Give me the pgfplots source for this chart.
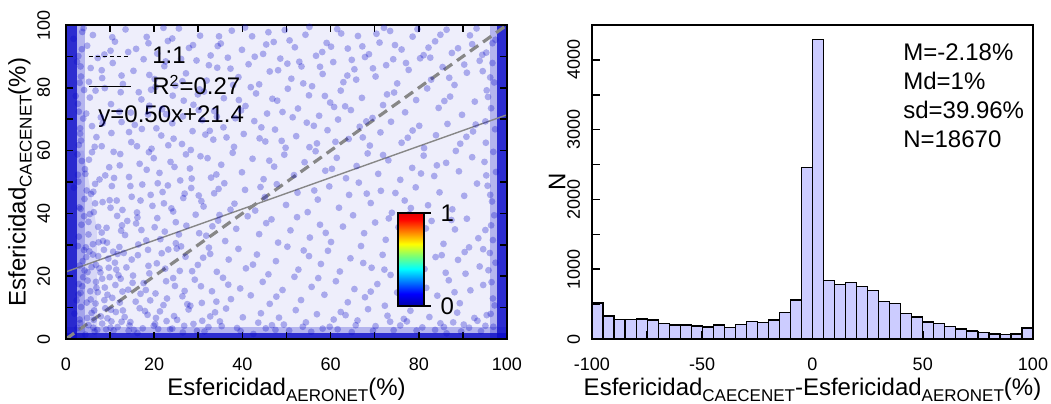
\documentclass[border=0pt]{standalone}
\usepackage{pgfplots}
\pgfplotsset{compat=1.18}
\usepackage{fontspec}
\setmainfont{Liberation Sans}
\usetikzlibrary{calc}
\definecolor{ptblue}{RGB}{10,10,200}
\definecolor{histfill}{RGB}{204,204,255}
\definecolor{lgray}{RGB}{135,135,135}
\pgfplotsset{
  every axis/.append style={
    /pgf/number format/assume math mode=true,
    /pgf/number format/1000 sep={},
    tick label style={font=\fontsize{9}{10.8}\selectfont},
    label style={font=\fontsize{12}{14.4}\selectfont},
  }
}
\newcommand{\sub}[1]{\raisebox{-0.25em}{\fontsize{8.5}{10}\selectfont #1}}
\begin{document}
\begin{tikzpicture}
\useasboundingbox (-33pt,-32pt) rectangle (492.5pt,169.5pt);
% ---------------- left: scatter
\begin{axis}[
  at={(0pt,0pt)}, anchor=south west,
  scale only axis, width=220.5pt, height=157pt,
  xmin=0, xmax=100, ymin=0, ymax=100,
  xtick={0,20,...,100}, minor xtick={10,30,...,90},
  ytick={0,20,...,100}, minor ytick={10,30,...,90},
  tick pos=both, tick align=inside,
  major tick length=3.5pt, minor tick length=3.5pt,
  every tick/.style={black, line width=0.8pt},
  axis line style={line width=1pt},
  axis on top,
  xticklabel shift=6pt, yticklabel shift=4.5pt,
  yticklabel style={rotate=90, anchor=south},
  xlabel={Esfericidad\sub{AERONET}(\%)},
  ylabel={Esfericidad\sub{CAECENET}(\%)},
  xlabel style={at={(axis description cs:0.5,-0.162)}, anchor=center},
  ylabel style={at={(axis description cs:-0.104,0.5)}, anchor=center, rotate=0},
  legend style={at={(0.036,0.962)}, anchor=north west, draw=none, fill=none,
    font=\fontsize{12}{14.4}\selectfont, row sep=0pt, column sep=10.5pt,
    nodes={inner ysep=0pt, inner xsep=0pt, minimum height=15pt}},
  legend cell align=left,
  legend image code/.code={\draw[#1] (0pt,0pt) -- (21pt,0pt);},
  colormap={cbmap}{rgb255(0cm)=(0,0,170); rgb255(1cm)=(0,0,255); rgb255(3cm)=(0,255,255); rgb255(4cm)=(120,255,120); rgb255(5cm)=(255,255,0); rgb255(7cm)=(255,0,0); rgb255(7.5cm)=(225,0,0)},
  colorbar, point meta min=0, point meta max=1,
  colorbar style={
    at={($(parent axis.south west)+(157.5pt,16.5pt)$)}, anchor=south west,
    scale only axis, width=13pt, height=46.5pt,
    ytick={0,1}, xtick=\empty, ytick pos=right, yticklabel pos=right,
    tick align=outside, major tick length=3.3pt,
    every tick/.style={black, line width=0.6pt},
    axis line style={line width=0.6pt},
    yticklabel style={font=\fontsize{12}{14.4}\selectfont, xshift=1.5pt},
  },
]
% haze and dense edge bands
\addplot[fill=ptblue, fill opacity=0.07, draw=none, forget plot] coordinates {(0,0) (100,0) (100,100) (0,100)} -- cycle;
\addplot[fill=ptblue, fill opacity=0.10, draw=none, forget plot] coordinates {(0,0) (7,0) (7,35) (4,60) (0,60)} -- cycle;
\addplot[fill=ptblue, fill opacity=0.25, draw=none, forget plot] coordinates {(0,0) (4.2,0) (4.2,100) (0,100)} -- cycle;
\addplot[fill=ptblue, fill opacity=0.8, draw=none, forget plot] coordinates {(0,0) (2.4,0) (2.4,100) (0,100)} -- cycle;
\addplot[fill=ptblue, fill opacity=0.25, draw=none, forget plot] coordinates {(96.2,0) (100,0) (100,100) (96.2,100)} -- cycle;
\addplot[fill=ptblue, fill opacity=0.8, draw=none, forget plot] coordinates {(97.8,0) (100,0) (100,100) (97.8,100)} -- cycle;
\addplot[fill=ptblue, fill opacity=0.25, draw=none, forget plot] coordinates {(0,0) (100,0) (100,3.8) (0,3.8)} -- cycle;
\addplot[fill=ptblue, fill opacity=0.8, draw=none, forget plot] coordinates {(0,0) (100,0) (100,2.0) (0,2.0)} -- cycle;
% scattered points
\addplot[only marks, mark=*, mark size=1.7pt, color=ptblue, mark options={fill=ptblue, fill opacity=0.3, draw opacity=0}, forget plot] coordinates {
(3.2,5.1)(5.8,8.3)(7.1,2.9)(9.4,6.6)(11.7,3.8)(12.9,9.1)(14.6,5.4)(16.2,1.9)(18.5,7.7)(19.9,4.2)(21.3,8.8)(23.6,3.1)(25.2,6.1)(27.8,9.4)(28.9,4.8)(31.4,2.4)(32.7,7.2)(34.9,5.6)(36.3,9.7)(38.8,3.5)(40.1,6.9)(42.5,1.6)(44.2,8.2)(46.7,4.4)(48.3,6.8)(50.6,2.7)(52.1,9.2)(54.4,5.3)(56.9,7.9)(58.2,3.3)(60.7,6.2)(62.3,8.6)(64.8,2.2)(66.1,5.9)(68.5,9.5)(70.2,4.1)(72.9,7.4)(74.3,2.8)(76.6,6.4)(78.1,9.0)(80.8,3.7)(82.4,7.0)(84.9,5.0)(86.3,1.8)(88.7,8.4)(90.2,4.6)(92.6,6.7)(94.1,2.5)(96.3,8.0)(4.4,1.4)(8.2,4.9)(13.3,7.0)(17.4,3.4)(22.8,5.7)(26.5,2.1)(33.8,8.5)(43.6,5.2)(53.7,3.9)(63.4,7.6)(73.5,5.5)(83.7,2.9)(93.3,5.8)
(2.8,14.2)(4.9,18.6)(6.7,11.3)(8.8,16.4)(10.5,13.1)(12.4,19.2)(14.1,15.7)(15.8,11.9)(17.6,17.8)(20.3,14.5)(22.1,10.8)(24.7,16.9)(26.4,13.6)(29.2,18.9)(30.8,11.5)(33.1,15.2)(35.6,19.5)(37.4,12.7)(39.5,16.1)(41.9,13.9)(44.6,18.2)(46.2,11.2)(49.1,15.6)(51.8,19.8)(53.3,12.4)(55.7,16.6)(58.6,14.1)(61.2,18.4)(63.9,11.7)(65.4,15.9)(67.8,13.3)(70.6,17.5)(72.3,10.6)(75.1,14.8)(77.5,19.1)(79.2,12.2)(81.7,16.3)(84.2,13.8)(86.8,18.7)(89.3,11.4)(91.7,15.5)(94.6,17.2)(96.8,12.9)(5.6,12.6)(9.9,19.7)(16.9,14.4)(27.5,11.1)(36.8,17.3)(47.7,13.5)(57.2,19.4)(69.1,15.1)(78.4,16.8)(88.1,14.9)(3.7,16.8)(11.2,17.2)(19.1,12.3)
(3.1,23.4)(5.3,27.9)(7.8,21.2)(9.6,25.6)(12.1,29.3)(13.7,22.8)(16.3,26.7)(18.9,20.9)(20.6,24.1)(23.2,28.5)(25.8,21.7)(27.1,26.2)(29.9,23.6)(32.4,29.1)(34.2,21.4)(36.9,25.3)(39.1,28.7)(40.8,22.5)(43.3,26.9)(45.9,20.6)(47.6,24.8)(50.2,29.4)(52.7,22.1)(55.1,26.4)(57.8,23.9)(59.4,28.1)(62.1,21.5)(64.5,25.7)(66.9,29.6)(69.3,22.7)(71.8,26.8)(73.6,20.4)(76.2,24.6)(78.9,28.9)(81.3,22.3)(83.8,26.1)(86.1,21.1)(88.9,25.2)(91.4,29.2)(93.8,23.1)(96.1,27.4)(4.2,21.8)(8.6,28.4)(11.1,24.3)(15.2,20.2)(21.7,27.3)(31.1,25.9)(42.4,23.7)(53.9,28.2)(67.4,24.2)(79.7,21.9)(90.4,27.7)
(2.9,32.6)(5.1,37.3)(7.4,30.8)(9.2,35.4)(11.6,39.2)(13.4,33.1)(15.9,36.8)(18.2,31.4)(20.7,38.5)(22.4,34.2)(24.9,30.5)(27.3,36.1)(29.4,39.6)(31.8,32.9)(34.5,37.7)(36.1,31.2)(38.6,35.1)(41.2,39.1)(43.8,33.4)(45.4,36.9)(48.1,30.7)(50.9,34.6)(52.4,38.8)(55.3,32.3)(57.6,36.4)(60.1,30.9)(62.8,35.8)(65.1,39.4)(67.6,33.7)(70.1,37.1)(72.5,31.6)(75.4,35.6)(77.9,39.8)(80.4,32.7)(82.9,37.6)(85.6,30.3)(88.2,34.9)(90.9,38.3)(93.5,32.1)(96.4,36.2)(4.1,39.1)(8.1,33.9)(12.7,36.2)(17.1,34.7)(25.6,33.3)(33.2,35.9)(46.6,38.1)(58.9,33.8)(73.2,38.4)(87.4,37.9)
(3.3,41.5)(5.7,46.2)(8.3,43.6)(10.4,48.7)(12.8,41.1)(14.9,45.3)(17.3,49.2)(19.6,42.4)(21.9,46.8)(24.3,40.6)(26.6,44.9)(28.4,48.1)(31.2,42.2)(33.6,46.4)(35.9,49.6)(38.2,43.1)(40.6,47.5)(42.9,40.9)(45.1,45.2)(47.8,49.3)(49.9,42.7)(52.5,46.6)(54.8,40.4)(57.1,44.4)(59.7,48.6)(61.9,41.8)(64.2,45.9)(66.4,49.8)(69.1,43.3)(71.4,47.2)(73.9,40.2)(76.8,44.1)(79.3,48.3)(82.1,42.6)(84.7,46.7)(87.6,41.3)(90.3,45.6)(93.2,49.5)(96.6,43.8)(6.6,49.4)(11.5,44.1)(16.1,40.3)(23.1,48.9)(30.1,45.7)(37.3,41.2)(44.1,48.4)(56.3,47.3)(68.2,46.3)(78.2,41.7)
(2.7,52.3)(5.2,57.1)(7.6,50.8)(9.8,54.7)(12.3,58.9)(14.3,51.6)(16.7,55.8)(18.8,59.5)(21.2,52.9)(23.7,56.4)(25.9,50.5)(28.1,54.3)(30.5,58.2)(32.9,51.4)(35.2,55.5)(37.8,59.3)(39.9,53.1)(42.3,57.4)(44.8,50.9)(47.2,54.9)(49.5,58.7)(51.7,52.2)(54.1,56.3)(56.6,59.8)(58.8,53.6)(61.4,57.7)(63.5,51.2)(65.9,55.1)(68.4,59.1)(70.8,52.6)(73.1,56.9)(75.8,50.7)(78.5,54.5)(81.1,58.4)(83.5,51.9)(86.2,56.1)(89.1,53.4)(92.1,57.9)(95.3,52.1)(4.3,54.1)(10.9,51.3)(19.9,57.6)(27.2,58.8)(34.1,52.4)(46.1,56.8)(60.3,54.2)(71.9,58.6)(84.1,55.3)
(3.4,63.2)(5.9,67.8)(8.1,61.4)(10.3,65.6)(12.6,69.1)(14.8,62.7)(17.2,66.9)(19.4,60.6)(21.6,64.8)(24.1,68.7)(26.3,62.1)(28.7,66.2)(30.9,69.7)(33.4,63.5)(35.7,67.4)(38.1,61.2)(40.3,65.3)(42.7,69.4)(45.2,62.9)(47.4,66.7)(49.8,60.9)(52.2,64.6)(54.6,68.9)(56.9,62.3)(59.3,66.5)(61.7,69.9)(64.1,63.7)(66.6,67.6)(68.9,61.6)(71.3,65.8)(73.7,69.2)(76.1,62.5)(78.6,66.4)(81.2,60.8)(83.9,64.9)(86.5,68.5)(89.4,62.2)(92.3,66.1)(95.1,69.3)(6.9,64.3)(15.6,68.2)(23.2,61.7)(31.6,65.1)(43.9,63.9)(55.2,61.1)(67.3,64.2)(80.1,67.9)(90.8,64.4)
(2.9,72.4)(5.4,76.9)(7.9,70.6)(10.2,74.8)(12.4,78.6)(14.7,72.1)(17.1,76.3)(19.3,79.4)(21.8,73.2)(24.2,77.5)(26.5,70.9)(28.9,74.6)(31.3,78.8)(33.6,72.6)(35.8,76.7)(38.4,70.3)(40.7,74.2)(43.1,78.2)(45.6,71.8)(47.9,75.9)(50.3,79.7)(52.6,73.4)(55.1,77.6)(57.4,71.1)(59.9,75.3)(62.3,79.1)(64.6,72.9)(67.1,76.8)(69.5,70.4)(71.9,74.5)(74.4,78.5)(76.9,72.2)(79.4,76.1)(81.9,79.8)(84.5,73.6)(87.1,77.2)(89.8,71.4)(92.7,75.6)(95.4,79.2)(8.8,79.9)(18.6,71.5)(29.9,77.9)(39.2,76.1)(49.1,72.3)(60.8,73.9)(72.8,77.9)(85.8,75.8)
(3.1,81.6)(5.6,86.3)(8.2,83.1)(10.6,87.9)(12.9,81.2)(15.3,85.4)(17.6,89.1)(20.1,82.8)(22.3,86.9)(24.8,80.7)(27.2,84.6)(29.6,88.7)(31.9,82.3)(34.3,86.4)(36.7,89.6)(39.1,83.4)(41.4,87.5)(43.8,81.1)(46.2,85.2)(48.6,89.3)(51.1,82.9)(53.4,86.8)(55.8,80.5)(58.2,84.4)(60.6,88.2)(62.9,81.8)(65.4,85.9)(67.8,89.8)(70.2,83.6)(72.6,87.2)(75.1,81.4)(77.7,85.7)(80.3,89.4)(82.8,82.6)(85.4,86.6)(88.1,80.9)(90.9,84.8)(93.8,88.6)(96.2,83.3)(7.2,89.5)(18.9,84.1)(26.1,89.2)(37.9,80.9)(50.2,87.7)(63.8,83.9)(74.2,89.1)(86.9,83.2)
(3.6,92.3)(6.1,96.8)(8.7,90.6)(11.1,94.7)(13.5,98.6)(15.9,92.4)(18.3,96.2)(20.7,90.9)(23.1,94.9)(25.6,98.9)(27.9,92.7)(30.4,96.6)(32.8,90.3)(35.1,94.1)(37.6,98.2)(39.9,92.1)(42.2,96.4)(44.7,90.8)(47.1,94.6)(49.6,98.4)(51.9,92.9)(54.3,96.9)(56.7,90.2)(59.1,94.3)(61.5,98.7)(63.9,92.5)(66.2,96.5)(68.7,90.7)(71.1,94.4)(73.5,98.1)(76.1,92.2)(78.6,96.3)(81.1,90.4)(83.7,94.8)(86.3,98.5)(88.9,92.6)(91.6,96.7)(94.4,90.5)(96.7,94.2)(10.1,91.8)(22.1,99.1)(34.4,93.3)(45.9,97.7)(58.1,91.4)(70.4,97.2)(82.2,92.8)(93.1,98.9)
(1.9,8.1)(2.4,12.3)(3.9,19.7)(4.6,26.1)(5.1,33.3)(6.2,3.6)(6.3,40.4)(7.2,14.9)(7.6,22.5)(8.9,9.8)(9.3,30.7)(9.9,44.2)(10.8,2.7)(11.4,22.1)(12.2,11.6)(13.1,27.4)(13.9,37.6)(14.4,4.3)(15.1,17.9)(16.4,30.1)(17.9,8.9)(18.7,23.3)(19.2,45.9)(20.9,3.2)(21.4,31.8)(22.7,18.4)(23.9,41.6)(24.5,7.3)(25.1,28.8)(26.9,15.3)(1.8,48.2)(2.6,58.8)(3.2,67.1)(2.2,77.4)(2.5,88.3)(1.7,95.6)
(2.6,3.5)(3.4,10.2)(2.9,17.5)(3.8,24.8)(2.7,29.6)(3.5,36.4)(4.2,44.6)(2.8,50.1)(3.6,56.7)(2.9,61.8)(3.9,70.2)(2.7,74.9)(3.4,83.6)(2.8,90.1)(3.7,97.8)(4.8,6.7)(5.5,15.2)(4.9,21.3)(6.1,30.2)(5.4,39.8)(4.7,47.3)(5.9,59.5)(4.6,71.8)(5.2,81.9)(4.8,93.4)(6.4,9.1)(6.8,18.2)(6.1,26.9)(7.3,35.7)(6.6,43.2)(3.1,6.2)(3.3,14.7)(4.1,28.3)(3.0,41.9)(4.4,52.6)(3.2,65.4)(4.1,79.3)(3.3,86.8)(4.0,99.0)
(96.9,3.9)(97.2,10.7)(96.5,18.1)(97.4,24.3)(96.8,31.5)(97.1,39.4)(96.2,45.9)(97.5,53.2)(96.9,59.6)(97.3,66.8)(96.4,73.5)(97.1,81.7)(96.7,87.9)(97.4,95.3)(95.4,7.6)(95.8,21.9)(95.1,34.7)(95.6,48.8)(95.2,62.5)(95.7,77.1)(95.3,91.2)(94.6,28.6)(94.9,56.4)(94.5,85.3)
(6.5,2.4)(10.1,3.6)(15.4,2.9)(20.2,4.8)(24.1,3.3)(29.7,2.6)(35.3,4.1)(39.6,2.5)(45.3,3.4)(49.4,4.6)(55.6,2.3)(59.8,3.9)(65.7,4.4)(69.6,2.6)(75.8,4.3)(79.5,2.7)(85.7,3.8)(89.6,2.4)(91.4,3.6)(95.1,4.2)(12.6,5.5)(30.9,5.8)(47.5,2.9)(61.6,3.1)(77.3,5.6)(87.8,5.3)
(6.3,6.1)(8.7,12.4)(10.2,9.3)(12.8,15.1)(14.2,2.6)(16.7,9.8)(18.1,15.6)(20.4,6.7)(22.9,12.9)(24.3,19.4)(26.8,4.2)(28.2,10.6)(30.6,16.8)(32.3,3.8)(34.1,11.9)
(6.8,23.6)(8.4,31.2)(10.7,27.8)(12.5,34.5)(14.9,25.3)(16.2,38.7)(18.6,28.4)(20.1,35.6)(22.5,22.4)(24.9,37.2)(26.1,29.5)(28.6,21.6)(30.2,33.7)(32.7,27.1)(34.8,39.5)
(6.2,46.9)(8.9,52.1)(10.1,41.8)(12.2,55.3)(14.6,48.7)(16.9,44.1)(18.3,53.9)(20.8,49.6)(22.2,43.2)(24.6,54.8)(26.9,46.3)(28.5,51.1)(30.7,43.9)(32.1,57.6)(34.6,47.8)
(6.5,61.2)(8.3,68.7)(10.8,59.6)(12.1,72.4)(14.3,65.9)(16.1,61.4)(18.9,74.3)(20.5,67.1)(22.7,71.6)(24.4,63.8)(26.7,75.9)(28.3,60.2)(30.1,72.9)(32.6,66.3)(34.2,70.8)
(6.7,79.1)(8.1,85.6)(10.5,96.1)(12.6,83.9)(14.1,91.4)(16.5,78.6)(18.7,94.2)(20.3,80.3)(22.6,88.4)(24.1,95.7)(26.4,82.1)(28.8,93.6)(30.3,79.5)(32.4,87.2)(34.7,96.4)
(37.3,86.1)(40.6,99.2)(42.8,89.9)(45.4,93.8)(48.1,85.6)(50.7,95.1)(52.9,88.3)(55.2,99.4)(57.6,86.7)(60.1,93.1)(62.4,97.3)(64.8,88.9)(67.2,93.2)(69.6,86.2)(72.1,99.1)(74.6,93.6)(77.1,87.9)(79.7,98.7)(82.6,89.6)(84.9,96.9)(87.5,91.1)(90.3,87.4)(92.1,93.9)
(36.4,64.2)(39.7,72.8)(41.9,80.2)(44.3,67.4)(46.8,76.5)(48.9,63.1)(51.4,70.6)(53.8,81.4)(56.2,67.9)(58.7,77.4)(61.1,62.8)(63.3,74.1)(65.8,82.6)(68.1,69.3)
(5.1,4.4)(7.9,7.2)(9.1,3.1)(11.3,8.6)(4.7,11.6)(6.9,16.3)(9.4,14.1)(11.9,20.3)(5.8,22.9)(7.3,26.4)(9.7,22.7)(11.7,27.1)(4.5,29.2)(8.2,19.2)(10.3,5.6)
(72.2,22.1)(76.4,29.7)(81.6,35.2)(85.2,26.7)(90.6,20.8)(74.7,46.5)(80.5,52.7)(88.4,59.9)(92.9,68.3)(77.5,64.1)
};
% lines
\addplot[lgray, line width=1.6pt, dash pattern=on 5pt off 3pt, forget plot] coordinates {(0,0) (100,100)};
\addplot[lgray, line width=0.7pt, forget plot] coordinates {(0,21.4) (100,71.4)};
\addlegendimage{black, line width=0.5pt, dash pattern=on 2pt off 1.5pt}
\addlegendentry{1:1}
\addlegendimage{black, line width=0.5pt}
\addlegendentry{R\textsuperscript{2}=0.27}
\node[anchor=west, inner sep=0pt, font=\fontsize{12}{14.4}\selectfont] at (rel axis cs:0.0726,0.707) {y=0.50x+21.4};
\end{axis}
% ---------------- right: histogram
\begin{axis}[
  at={(263pt,0pt)}, anchor=south west,
  scale only axis, width=220.5pt, height=157pt,
  xmin=-100, xmax=100, ymin=0, ymax=4500,
  xtick={-100,-50,0,50,100}, minor xtick={-75,-25,25,75},
  ytick={0,1000,2000,3000,4000}, minor ytick={500,1500,2500,3500},
  xtick pos=bottom, ytick pos=left, tick align=inside,
  major tick length=4pt, minor tick length=4pt,
  every tick/.style={black, line width=0.8pt},
  axis line style={line width=1pt},
  axis on top,
  scaled y ticks=false,
  xticklabel shift=6pt, yticklabel shift=2.5pt,
  yticklabel style={rotate=90, anchor=south},
  xlabel={Esfericidad\sub{CAECENET}-Esfericidad\sub{AERONET}(\%)},
  ylabel={N},
  xlabel style={at={(axis description cs:0.5,-0.162)}, anchor=center},
  ylabel style={at={(axis description cs:-0.079,0.5)}, anchor=center},
]
\addplot[ybar interval, fill=histfill, draw=black, line width=0.6pt] coordinates {
(-100,517) (-95,330) (-90,278) (-85,278) (-80,287) (-75,273) (-70,220) (-65,201) (-60,201) (-55,187)
(-50,172) (-45,201) (-40,163) (-35,206) (-30,254) (-25,240) (-20,273) (-15,378) (-10,560) (-5,2457)
(0,4292) (5,834) (10,786) (15,805) (20,747) (25,690) (30,532) (35,508) (40,364) (45,316)
(50,244) (55,220) (60,182) (65,144) (70,115) (75,91) (80,72) (85,62) (90,72) (95,158) (100,158)
};
\node[anchor=north west, align=left, inner sep=0pt, font=\fontsize{12}{14.5}\selectfont] at (rel axis cs:0.705,0.941) {M=-2.18\%\\Md=1\%\\sd=39.96\%\\N=18670};
\end{axis}
\end{tikzpicture}
\end{document}
